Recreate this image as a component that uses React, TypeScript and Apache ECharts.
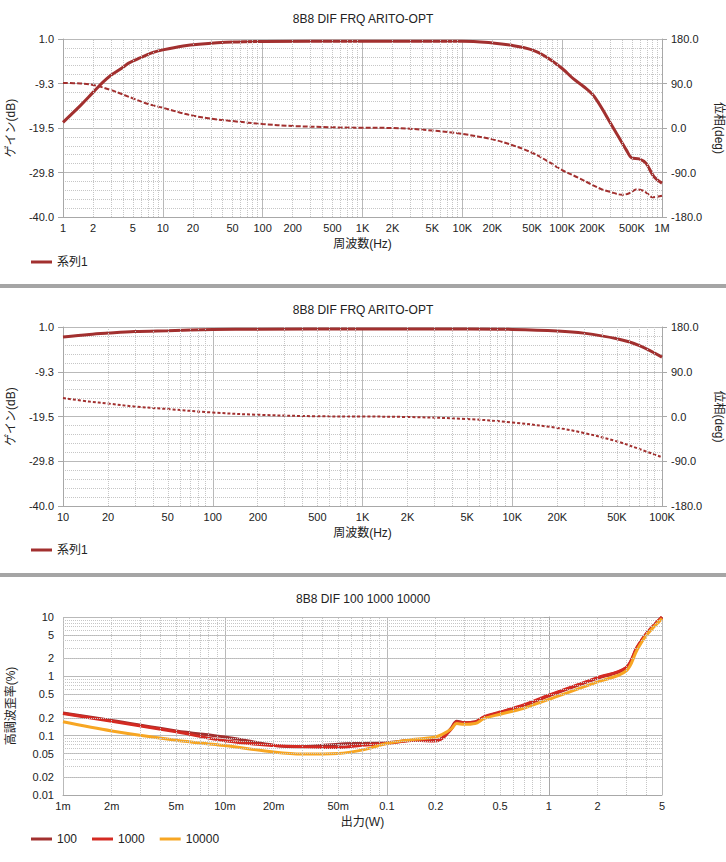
import React, { useEffect, useRef } from 'react';
import * as echarts from 'echarts';

// ---------- Data ----------
// Top chart: 1 Hz .. 1 MHz
const topGainFreq = [1, 1.5, 2, 2.5, 3, 4, 4.5, 6, 8, 10, 16, 23, 50, 100, 1000, 10000, 20000, 30000, 50000, 70000, 100000, 130000, 165000, 210000, 320000, 440000, 500000, 590000, 690000, 830000, 1000000];
const topGainDb = [-18.2, -14.3, -11.3, -9.0, -7.4, -5.5, -4.6, -3.3, -2.1, -1.5, -0.6, -0.2, 0.3, 0.45, 0.5, 0.5, 0.1, -0.4, -1.5, -3.2, -5.8, -8.2, -10.0, -12.3, -19.2, -24.6, -26.4, -26.6, -27.6, -30.7, -32.2];
const topPhaseFreq = [1, 1.5, 2, 3, 5, 7, 10, 15, 20, 30, 50, 100, 200, 500, 1000, 2000, 5000, 10000, 20000, 30000, 50000, 70000, 100000, 150000, 200000, 250000, 300000, 400000, 470000, 560000, 650000, 720000, 800000, 1000000];
const topPhaseDeg = [91, 90, 87, 77, 60, 49, 41, 31, 25, 19, 14, 8, 4, 1.5, 0.5, 0, -5, -12, -23, -33, -50, -66, -85, -102, -115, -124, -129, -135, -132, -124, -127, -133, -140, -137];

// Middle chart: 10 Hz .. 100 kHz
const midGainFreq = [10, 15, 20, 30, 50, 100, 200, 1000, 5000, 10000, 20000, 30000, 50000, 70000, 100000];
const midGainDb = [-1.3, -0.7, -0.4, -0.05, 0.15, 0.4, 0.5, 0.55, 0.55, 0.45, 0.1, -0.4, -1.7, -3.2, -5.9];
const midPhaseFreq = [10, 15, 20, 30, 50, 100, 200, 500, 1000, 2000, 5000, 10000, 20000, 30000, 50000, 70000, 100000];
const midPhaseDeg = [37, 30, 26, 20, 15, 8, 3.5, 0.5, 0, -1, -5, -12, -23, -33, -50, -65, -82];

// Bottom chart: distortion vs output power
const powerW = [0.001, 0.002, 0.005, 0.01, 0.02, 0.03, 0.05, 0.07, 0.1, 0.15, 0.2, 0.22, 0.25, 0.27, 0.3, 0.35, 0.4, 0.5, 0.7, 1, 2, 3, 3.5, 4, 5];
const thd100 = [0.24, 0.18, 0.12, 0.095, 0.069, 0.065, 0.072, 0.074, 0.076, 0.084, 0.083, 0.092, 0.135, 0.175, 0.165, 0.17, 0.205, 0.245, 0.32, 0.47, 0.93, 1.38, 3.0, 5.2, 10];
const thd1000 = [0.237, 0.175, 0.116, 0.082, 0.068, 0.065, 0.063, 0.069, 0.074, 0.084, 0.081, 0.09, 0.13, 0.17, 0.165, 0.17, 0.21, 0.25, 0.33, 0.48, 0.95, 1.4, 3.1, 5.25, 10];
const thd10000 = [0.171, 0.12, 0.084, 0.068, 0.053, 0.049, 0.05, 0.057, 0.074, 0.087, 0.095, 0.105, 0.13, 0.16, 0.155, 0.16, 0.195, 0.23, 0.29, 0.41, 0.805, 1.23, 2.75, 4.9, 9.4];

// Tick labels
const topTickValues = [1, 2, 5, 10, 20, 50, 100, 200, 500, 1000, 2000, 5000, 10000, 20000, 50000, 100000, 200000, 500000, 1000000];
const topTickLabels = ['1', '2', '5', '10', '20', '50', '100', '200', '500', '1K', '2K', '5K', '10K', '20K', '50K', '100K', '200K', '500K', '1M'];
const midTickValues = [10, 20, 50, 100, 200, 500, 1000, 2000, 5000, 10000, 20000, 50000, 100000];
const midTickLabels = ['10', '20', '50', '100', '200', '500', '1K', '2K', '5K', '10K', '20K', '50K', '100K'];
const botXTickValues = [0.001, 0.002, 0.005, 0.01, 0.02, 0.05, 0.1, 0.2, 0.5, 1, 2, 5];
const botXTickLabels = ['1m', '2m', '5m', '10m', '20m', '50m', '0.1', '0.2', '0.5', '1', '2', '5'];
const botYTickValues = [0.01, 0.02, 0.05, 0.1, 0.2, 0.5, 1, 2, 5, 10];
const botYTickLabels = ['0.01', '0.02', '0.05', '0.1', '0.2', '0.5', '1', '2', '5', '10'];

const seriesNames = ['100', '1000', '10000'];

// ---------- Styles ----------
const FONT = "'Liberation Sans', 'Noto Sans CJK JP', sans-serif";
const TEXT = '#222';
const C_DARK = '#a2302f';
const C_RED = '#d42a22';
const C_ORANGE = '#f7a623';
const MAJOR = '#b9b9b9';
const MINOR = '#c6c6c6';
const AXIS = '#a8a8a8';

const DB_OFFSET = 40; // left gain axis is drawn from -40 dB

const lg = (v: number) => Math.log10(v);

function lookupLabel(values: number[], labels: string[]) {
  return (v: number) => {
    for (let i = 0; i < values.length; i++) {
      if (Math.abs(Math.log10(values[i]) - v) < 1e-6) return labels[i];
    }
    return '';
  };
}

function minorLogLines(fromExp: number, toExp: number, maxVal: number) {
  const out: number[] = [];
  for (let d = fromExp; d < toExp; d++) {
    for (let k = 2; k <= 9; k++) {
      const v = k * Math.pow(10, d);
      if (v <= maxVal * 1.0000001) out.push(Math.log10(v));
    }
  }
  return out;
}

const textStyle = { fontFamily: FONT, fontSize: 11, color: TEXT };

function freqXAxis(gridIndex: number, min: number, max: number, vals: number[], labels: string[], name: string) {
  return {
    type: 'value',
    gridIndex,
    min,
    max,
    interval: 1,
    name,
    nameLocation: 'middle',
    nameGap: 21,
    nameTextStyle: { ...textStyle, fontSize: 12 },
    axisLine: { show: true, onZero: false, lineStyle: { color: AXIS } },
    axisTick: { show: false },
    axisLabel: {
      ...textStyle,
      margin: 5,
      customValues: vals.map(lg),
      formatter: lookupLabel(vals, labels),
    },
    splitLine: { show: true, lineStyle: { color: MAJOR, width: 1, type: 'solid' } },
  };
}

function gainYAxis(gridIndex: number) {
  return {
    type: 'value',
    gridIndex,
    min: 0,
    max: 41,
    interval: 10.25,
    name: 'ゲイン(dB)',
    nameLocation: 'middle',
    nameGap: 46,
    nameTextStyle: { ...textStyle, fontSize: 12 },
    axisLine: { show: true, lineStyle: { color: AXIS } },
    axisTick: { show: true, length: 5, lineStyle: { color: AXIS } },
    axisLabel: { ...textStyle, margin: 9, formatter: (v: number) => (v - DB_OFFSET).toFixed(1) },
    splitLine: { show: true, lineStyle: { color: MAJOR, width: 1 } },
    minorTick: { show: false, splitNumber: 5 },
    minorSplitLine: { show: true, lineStyle: { color: MINOR, width: 1, type: 'dotted' } },
  };
}

function phaseYAxis(gridIndex: number) {
  return {
    type: 'value',
    gridIndex,
    position: 'right',
    min: -180,
    max: 180,
    interval: 90,
    name: '位相(deg)',
    nameLocation: 'middle',
    nameRotate: -90,
    nameGap: 50,
    nameTextStyle: { ...textStyle, fontSize: 12 },
    axisLine: { show: true, lineStyle: { color: AXIS } },
    axisTick: { show: true, length: 5, lineStyle: { color: AXIS } },
    axisLabel: { ...textStyle, margin: 9, formatter: (v: number) => v.toFixed(1) },
    splitLine: { show: false },
  };
}

function gridHelper(xIdx: number, yIdx: number, xLines: number[], yLines: number[], x0: number, y0: number) {
  const data: any[] = [];
  xLines.forEach((x) => data.push({ xAxis: x }));
  yLines.forEach((y) => data.push({ yAxis: y }));
  return {
    type: 'line',
    name: '_grid' + xIdx,
    xAxisIndex: xIdx,
    yAxisIndex: yIdx,
    data: [[x0, y0]],
    showSymbol: false,
    symbol: 'none',
    silent: true,
    z: 1,
    lineStyle: { opacity: 0 },
    markLine: {
      silent: true,
      symbol: ['none', 'none'],
      label: { show: false },
      emphasis: { disabled: true },
      animation: false,
      lineStyle: { color: MINOR, width: 1, type: 'dotted' },
      data,
    },
  };
}

function lineSeries(name: string, xIdx: number, yIdx: number, xs: number[], ys: number[], color: string, width: number, type: any, yMap: (v: number) => number) {
  return {
    type: 'line',
    name,
    xAxisIndex: xIdx,
    yAxisIndex: yIdx,
    data: xs.map((x, i) => [lg(x), yMap(ys[i])]),
    smooth: 0.35,
    showSymbol: false,
    symbol: 'none',
    z: 3,
    itemStyle: { color },
    lineStyle: { color, width, type },
  };
}

export default function App() {
  const ref = useRef<HTMLDivElement>(null);

  useEffect(() => {
    document.body.style.margin = '0';
    if (!ref.current) return;
    const chart = echarts.init(ref.current, undefined, { renderer: 'svg' });

    const ident = (v: number) => v;
    const dbShift = (v: number) => v + DB_OFFSET;

    const option: any = {
      animation: false,
      backgroundColor: '#ffffff',
      title: [
        { text: '8B8 DIF FRQ ARITO-OPT', left: 'center', top: 8, textStyle: { fontFamily: FONT, fontSize: 12, fontWeight: 'normal', color: TEXT } },
        { text: '8B8 DIF FRQ ARITO-OPT', left: 'center', top: 299, textStyle: { fontFamily: FONT, fontSize: 12, fontWeight: 'normal', color: TEXT } },
        { text: '8B8 DIF 100 1000 10000', left: 'center', top: 588, textStyle: { fontFamily: FONT, fontSize: 12, fontWeight: 'normal', color: TEXT } },
      ],
      legend: [
        { data: ['系列1'], left: 31, top: 256, padding: 0, icon: 'rect', itemWidth: 21, itemHeight: 3, itemGap: 15, textStyle: { ...textStyle, fontSize: 12 } },
        { data: ['系列1'], left: 31, top: 544, padding: 0, icon: 'rect', itemWidth: 21, itemHeight: 3, itemGap: 15, textStyle: { ...textStyle, fontSize: 12 } },
        { data: seriesNames, left: 31, top: 833, padding: 0, icon: 'rect', itemWidth: 21, itemHeight: 3, itemGap: 15, textStyle: { ...textStyle, fontSize: 12 } },
      ],
      grid: [
        { left: 63, top: 39, width: 599, height: 178, outerBoundsMode: 'none' },
        { left: 63, top: 327, width: 599, height: 179, outerBoundsMode: 'none' },
        { left: 63, top: 617, width: 599, height: 178, outerBoundsMode: 'none' },
      ],
      xAxis: [
        freqXAxis(0, 0, 6, topTickValues, topTickLabels, '周波数(Hz)'),
        freqXAxis(1, 1, 5, midTickValues, midTickLabels, '周波数(Hz)'),
        {
          ...freqXAxis(2, -3, lg(5), botXTickValues, botXTickLabels, '出力(W)'),
          interval: 1,
        },
      ],
      yAxis: [
        gainYAxis(0),
        phaseYAxis(0),
        gainYAxis(1),
        phaseYAxis(1),
        {
          type: 'value',
          gridIndex: 2,
          min: -2,
          max: 1,
          interval: 1,
          name: '高調波歪率(%)',
          nameLocation: 'middle',
          nameGap: 46,
          nameTextStyle: { ...textStyle, fontSize: 12 },
          axisLine: { show: true, lineStyle: { color: AXIS } },
          axisTick: { show: true, length: 5, lineStyle: { color: AXIS }, customValues: botYTickValues.map(lg) },
          axisLabel: { ...textStyle, margin: 9, customValues: botYTickValues.map(lg), formatter: lookupLabel(botYTickValues, botYTickLabels) },
          splitLine: { show: true, lineStyle: { color: MAJOR, width: 1 } },
        },
      ],
      series: [
        gridHelper(0, 0, minorLogLines(0, 6, 1e6), [], 0, 0),
        gridHelper(1, 2, minorLogLines(1, 5, 1e5), [], 1, 0),
        gridHelper(2, 4, minorLogLines(-3, 1, 5), minorLogLines(-2, 1, 10), -3, -2),
        lineSeries('系列1', 0, 0, topGainFreq, topGainDb, C_DARK, 3, 'solid', dbShift),
        lineSeries('位相', 0, 1, topPhaseFreq, topPhaseDeg, C_DARK, 2, [5, 2], ident),
        lineSeries('系列1', 1, 2, midGainFreq, midGainDb, C_DARK, 3, 'solid', dbShift),
        lineSeries('位相', 1, 3, midPhaseFreq, midPhaseDeg, C_DARK, 2, [3, 2], ident),
        lineSeries('100', 2, 4, powerW, thd100, C_DARK, 3, 'solid', lg),
        lineSeries('1000', 2, 4, powerW, thd1000, C_RED, 3, 'solid', lg),
        lineSeries('10000', 2, 4, powerW, thd10000, C_ORANGE, 3, 'solid', lg),
      ],
      graphic: [
        { type: 'rect', shape: { x: 0, y: 284, width: 726, height: 4 }, style: { fill: '#a5a5a5' }, silent: true },
        { type: 'rect', shape: { x: 0, y: 573, width: 726, height: 4 }, style: { fill: '#a5a5a5' }, silent: true },
      ],
    };

    chart.setOption(option);
    return () => {
      chart.dispose();
    };
  }, []);

  return <div ref={ref} style={{ width: 726, height: 862 }} />;
}
